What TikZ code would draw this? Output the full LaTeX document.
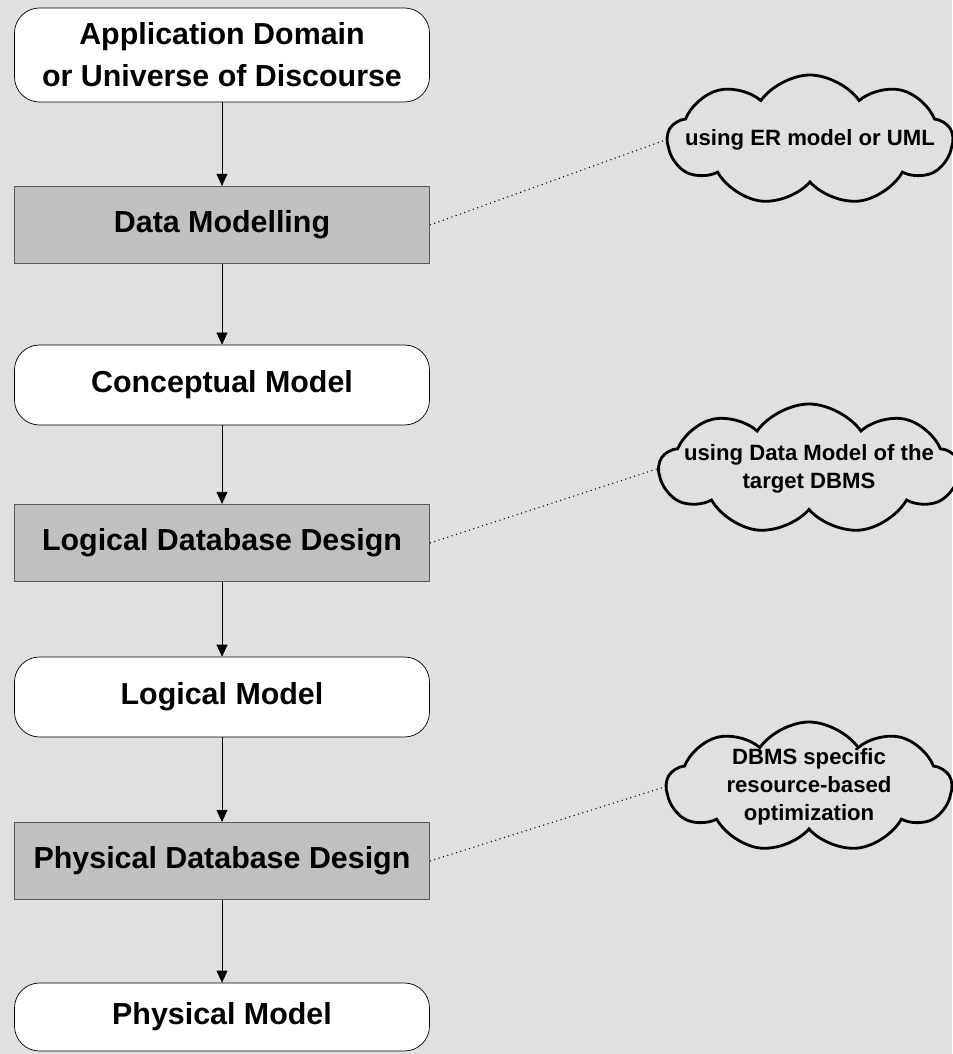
\documentclass[tikz,border=0pt]{standalone}
\usepackage{fontspec}
\setmainfont{Liberation Sans}
\usetikzlibrary{arrows.meta,shapes.symbols}
\definecolor{bggray}{RGB}{224,224,224}
\definecolor{boxgray}{RGB}{192,192,192}

\begin{document}
\begin{tikzpicture}[x=0.2mm, y=-0.2mm, font=\bfseries, -{Triangle[length=2.4mm,width=2.2mm]},
	stage/.style={draw, fill=white, rounded corners=5mm, minimum width=8.3cm, minimum height=1.6cm, align=center, font=\fontsize{17.3}{23.8}\selectfont\bfseries},
	process/.style={draw=gray!70!black, fill=boxgray, minimum width=8.3cm, minimum height=1.55cm, align=center, font=\fontsize{17.3}{23.8}\selectfont\bfseries},
	note/.style={draw, line width=1.6pt, cloud, cloud puffs=9, cloud puff arc=110, cloud ignores aspect, minimum width=5.7cm, minimum height=2.6cm, inner xsep=-12pt, inner ysep=-3pt, align=center, font=\fontsize{12.6}{16}\selectfont\bfseries},
	hint/.style={-, dotted, line width=0.6pt}]
	\fill[bggray] (0,0) rectangle (952,1054);
	\useasboundingbox (0,0) rectangle (952,1054);
	% main flow
	\node[stage, minimum height=1.88cm] (domain) at (222,55) {Application Domain\\or Universe of Discourse};
	\node[process] (datamod) at (222,225) {Data Modelling};
	\node[stage] (concept) at (222,385) {Conceptual Model};
	\node[process] (logdes) at (222,543) {Logical Database Design};
	\node[stage] (logmod) at (222,697) {Logical Model};
	\node[process] (physdes) at (222,861) {Physical Database Design};
	\node[stage, minimum height=1.36cm] (physmod) at (222,1017) {Physical Model};
	\draw (domain) -- (datamod);
	\draw (datamod) -- (concept);
	\draw (concept) -- (logdes);
	\draw (logdes) -- (logmod);
	\draw (logmod) -- (physdes);
	\draw (physdes) -- (physmod);
	% remarks
	\node[note] (er) at (810,140) {using ER model or UML};
	\node[note, inner xsep=-9pt] (dm) at (809,469) {using Data Model of the\\target DBMS};
	\node[note] (opt) at (809,787) {DBMS specific\\resource-based\\optimization};
	\draw[hint] (datamod.east) -- (er.west);
	\draw[hint] (logdes.east) -- (dm.west);
	\draw[hint] (physdes.east) -- (opt.west);
\end{tikzpicture}
\end{document}
